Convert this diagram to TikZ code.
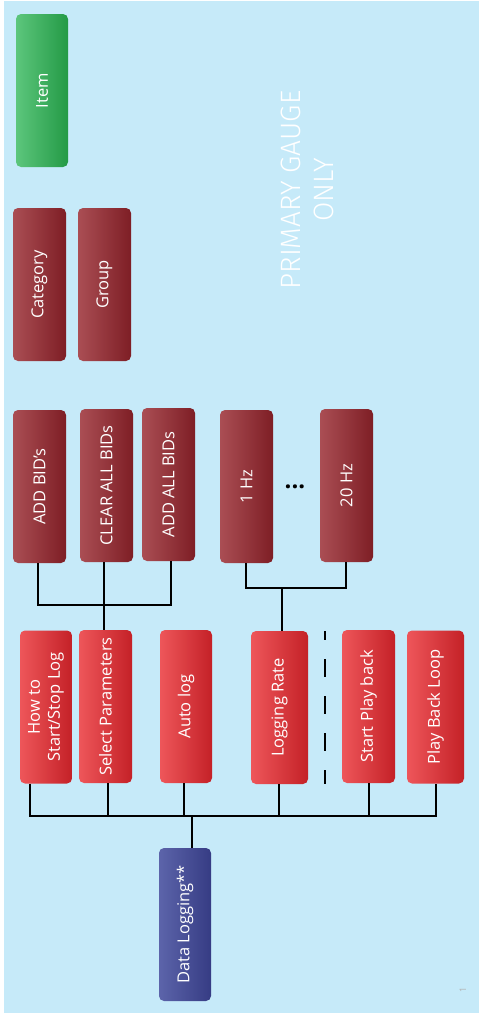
\documentclass[tikz,border=0pt]{standalone}
\usepackage{fontspec}
\setmainfont{Open Sans}
\newfontfamily\lightfont{Fira Sans Light}
\usetikzlibrary{calc}
\definecolor{bg}{RGB}{198,234,249}
\definecolor{drL}{RGB}{170,78,84}
\definecolor{drR}{RGB}{126,30,37}
\definecolor{rL}{RGB}{238,86,90}
\definecolor{rR}{RGB}{196,33,39}
\definecolor{gL}{RGB}{92,198,124}
\definecolor{gR}{RGB}{36,154,70}
\definecolor{bL}{RGB}{92,100,170}
\definecolor{bR}{RGB}{54,60,132}
\begin{document}
\begin{tikzpicture}[x=1pt,y=-1pt,
  box/.style={rounded corners=5pt, minimum width=53pt, minimum height=153pt, inner sep=0pt, text=white, font=\fontsize{16.5}{20}\selectfont, align=center},
  darkbox/.style={box, left color=drL, right color=drR},
  redbox/.style={box, left color=rL, right color=rR},
  greenbox/.style={box, left color=gL, right color=gR},
  bluebox/.style={box, left color=bL, right color=bR},
  conn/.style={line width=1.8pt, black}]
\useasboundingbox (0,0) rectangle (481,1021);
\fill[bg] (4,1) rectangle (479,1013);

% legend
\node[greenbox, minimum width=52pt] (item) at (42,90.5) {\rotatebox{90}{Item}};
\node[darkbox] (cat) at (39.5,284.5) {\rotatebox{90}{Category}};
\node[darkbox] (group) at (104.5,284.5) {\rotatebox{90}{Group}};

% title
\node[text=white, font=\lightfont\fontsize{28}{33}\selectfont] (title) at (310,190)
  {\rotatebox{90}{\begin{tabular}{@{}c@{}}PRIMARY GAUGE\\ONLY\end{tabular}}};

% third level
\node[darkbox] (addbid) at (39.5,486.5) {\rotatebox{90}{ADD BID’s}};
\node[darkbox] (clear) at (106.5,485.5) {\rotatebox{90}{CLEAR ALL BIDs}};
\node[darkbox] (addall) at (168.5,484.5) {\rotatebox{90}{ADD ALL BIDs}};
\node[darkbox] (hz1) at (246.5,486.5) {\rotatebox{90}{1 Hz}};
\node[darkbox] (hz20) at (346.5,485.5) {\rotatebox{90}{20 Hz}};
\node[font=\bfseries\fontsize{24}{24}\selectfont, inner sep=0pt] (dots) at (295,486.5) {...};

% second level
\node[redbox, minimum width=52pt] (howto) at (46,707)
  {\rotatebox{90}{\begin{tabular}{@{}c@{}}How to\\Start/Stop Log\end{tabular}}};
\node[redbox] (selpar) at (105.5,706.5) {\rotatebox{90}{Select Parameters}};
\node[redbox, minimum width=52pt] (autolog) at (186,706.5) {\rotatebox{90}{Auto log}};
\node[redbox, minimum width=57pt] (rate) at (279.5,707.5) {\rotatebox{90}{Logging Rate}};
\node[redbox] (startpb) at (368.5,706.5) {\rotatebox{90}{Start Play back}};
\node[redbox, minimum width=57pt] (pbloop) at (435.5,707) {\rotatebox{90}{Play Back Loop}};

% root
\node[bluebox, minimum width=52pt] (dl) at (185,924.5) {\rotatebox{90}{Data Logging**}};

% page number
\node[text=black!30, font=\fontsize{9}{9}\selectfont, rotate=90] (pgno) at (463,990) {1};

% connectors
\coordinate (busP) at (104,605);
\draw[conn] ([xshift=-1.5]addbid.south) |- (busP) -| ([xshift=2.5]addall.south);
\draw[conn] ([xshift=-2.5]clear.south) -- ([xshift=-2.5]clear.south |- selpar.north);

\coordinate (busR) at (282,588);
\draw[conn] ([xshift=-0.5]hz1.south) |- (busR) -| ([xshift=-0.5]hz20.south);
\draw[conn] (busR) -- (busR |- rate.north);

\coordinate (busB) at (192,816);
\draw[conn] ([xshift=-16]howto.south) |- (busB) -| ([xshift=0.5]pbloop.south);
\draw[conn] ([xshift=2.5]selpar.south) |- (busB);
\draw[conn] ([xshift=-2]autolog.south) |- (busB);
\draw[conn] ([xshift=-0.5]rate.south) |- (busB);
\draw[conn] ([xshift=0.5]startpb.south) |- (busB);
\draw[conn] (busB) -- (busB |- dl.north);

% separator
\coordinate (sepA) at (325,631);
\coordinate (sepB) at (325,784);
\draw[line width=2pt, dash pattern=on 18pt off 19pt, dash phase=9pt] (sepA) -- (sepB);
\end{tikzpicture}
\end{document}
